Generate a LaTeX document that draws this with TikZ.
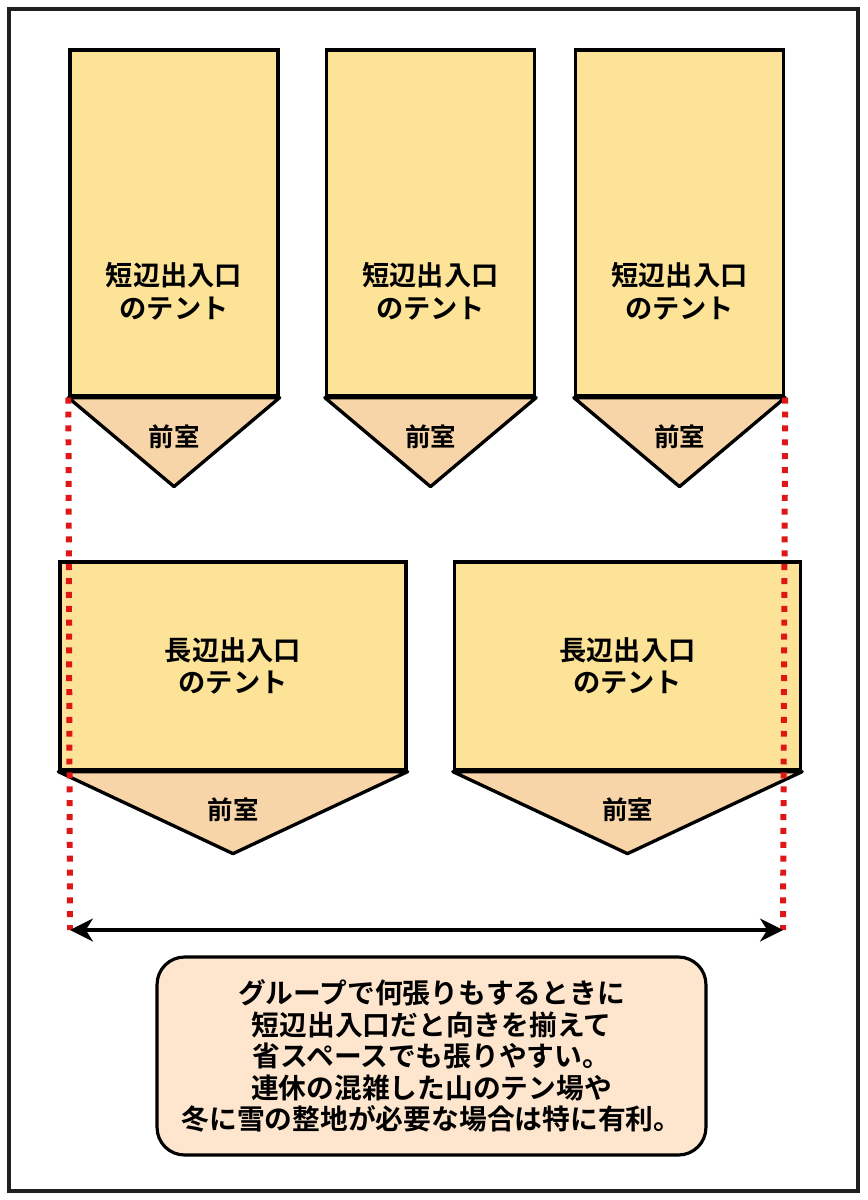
\documentclass[tikz,border=0pt]{standalone}
\usepackage{fontspec}
\setmainfont{Noto Sans CJK JP}[BoldFont={Noto Sans CJK JP Bold}]
\usetikzlibrary{arrows.meta}

\definecolor{tentyellow}{RGB}{252,227,152}
\definecolor{frontorange}{RGB}{248,213,168}
\definecolor{notepeach}{RGB}{253,229,206}
\definecolor{dotred}{RGB}{222,22,22}

\tikzset{
  tent/.style={draw=black,line width=1.9pt,fill=tentyellow,inner sep=0pt},
  front/.style={draw=black,line width=1.9pt,fill=frontorange,line join=round},
  tenttext/.style={font=\bfseries\fontsize{15.5}{18.7}\selectfont,align=center},
  fronttext/.style={font=\bfseries\fontsize{14.5}{17}\selectfont},
  reddots/.style={draw=dotred,line width=3.4pt,dash pattern=on 3.4pt off 4.5pt},
  note/.style={draw=black,line width=1.8pt,fill=notepeach,rounded corners=0.55cm,
    minimum width=10.98cm,minimum height=3.96cm,align=center,
    font=\bfseries\fontsize{15.8}{18}\selectfont}
}

\begin{document}
\begin{tikzpicture}[x=0.02cm,y=-0.02cm]
\useasboundingbox (0,0) rectangle (868,1200);

% Outer frame
\draw[line width=2.1pt,draw=black!88] (9,9) rectangle (858,1191);

% Short side entrance tents
\foreach \i/\cx in {1/174,2/430.5,3/679.5} {
   \node[tent,minimum width=4.16cm,minimum height=6.92cm] (s\i) at (\cx,223) {};
   \draw[front] (s\i.south west) -- (s\i.south east) -- ([yshift=-1.78cm]s\i.south) -- cycle;
   \node[tenttext] (st\i) at ([yshift=-1.36cm]s\i.center) {短辺出入口\\のテント};
   \node[fronttext] (sf\i) at ([yshift=-0.78cm]s\i.south) {前室};
}

% Long side entrance tents
\foreach \i/\cx in {1/233,2/627.5} {
   \node[tent,minimum width=6.92cm,minimum height=4.16cm] (l\i) at (\cx,666) {};
   \draw[front] (l\i.south west) -- (l\i.south east) -- ([yshift=-1.64cm]l\i.south) -- cycle;
   \node[tenttext] (lt\i) at (l\i.center) {長辺出入口\\のテント};
   \node[fronttext] (lf\i) at ([yshift=-0.76cm]l\i.south) {前室};
}

% Width of three short tents
\coordinate (wl) at (70,930);
\coordinate (wr) at (783,930);
\draw[reddots] (s1.south west) -- (wl);
\draw[reddots] (s3.south east) -- (wr);
\draw[line width=2.8pt,{Stealth[length=13pt,width=13pt,inset=4pt]}-{Stealth[length=13pt,width=13pt,inset=4pt]}] (wl) -- (wr);

% Note
\node[note] (memo) at (431.5,1056) {グループで何張りもするときに\\短辺出入口だと向きを揃えて\\省スペースでも張りやすい。\\連休の混雑した山のテン場や\\冬に雪の整地が必要な場合は特に有利。};
\end{tikzpicture}
\end{document}
